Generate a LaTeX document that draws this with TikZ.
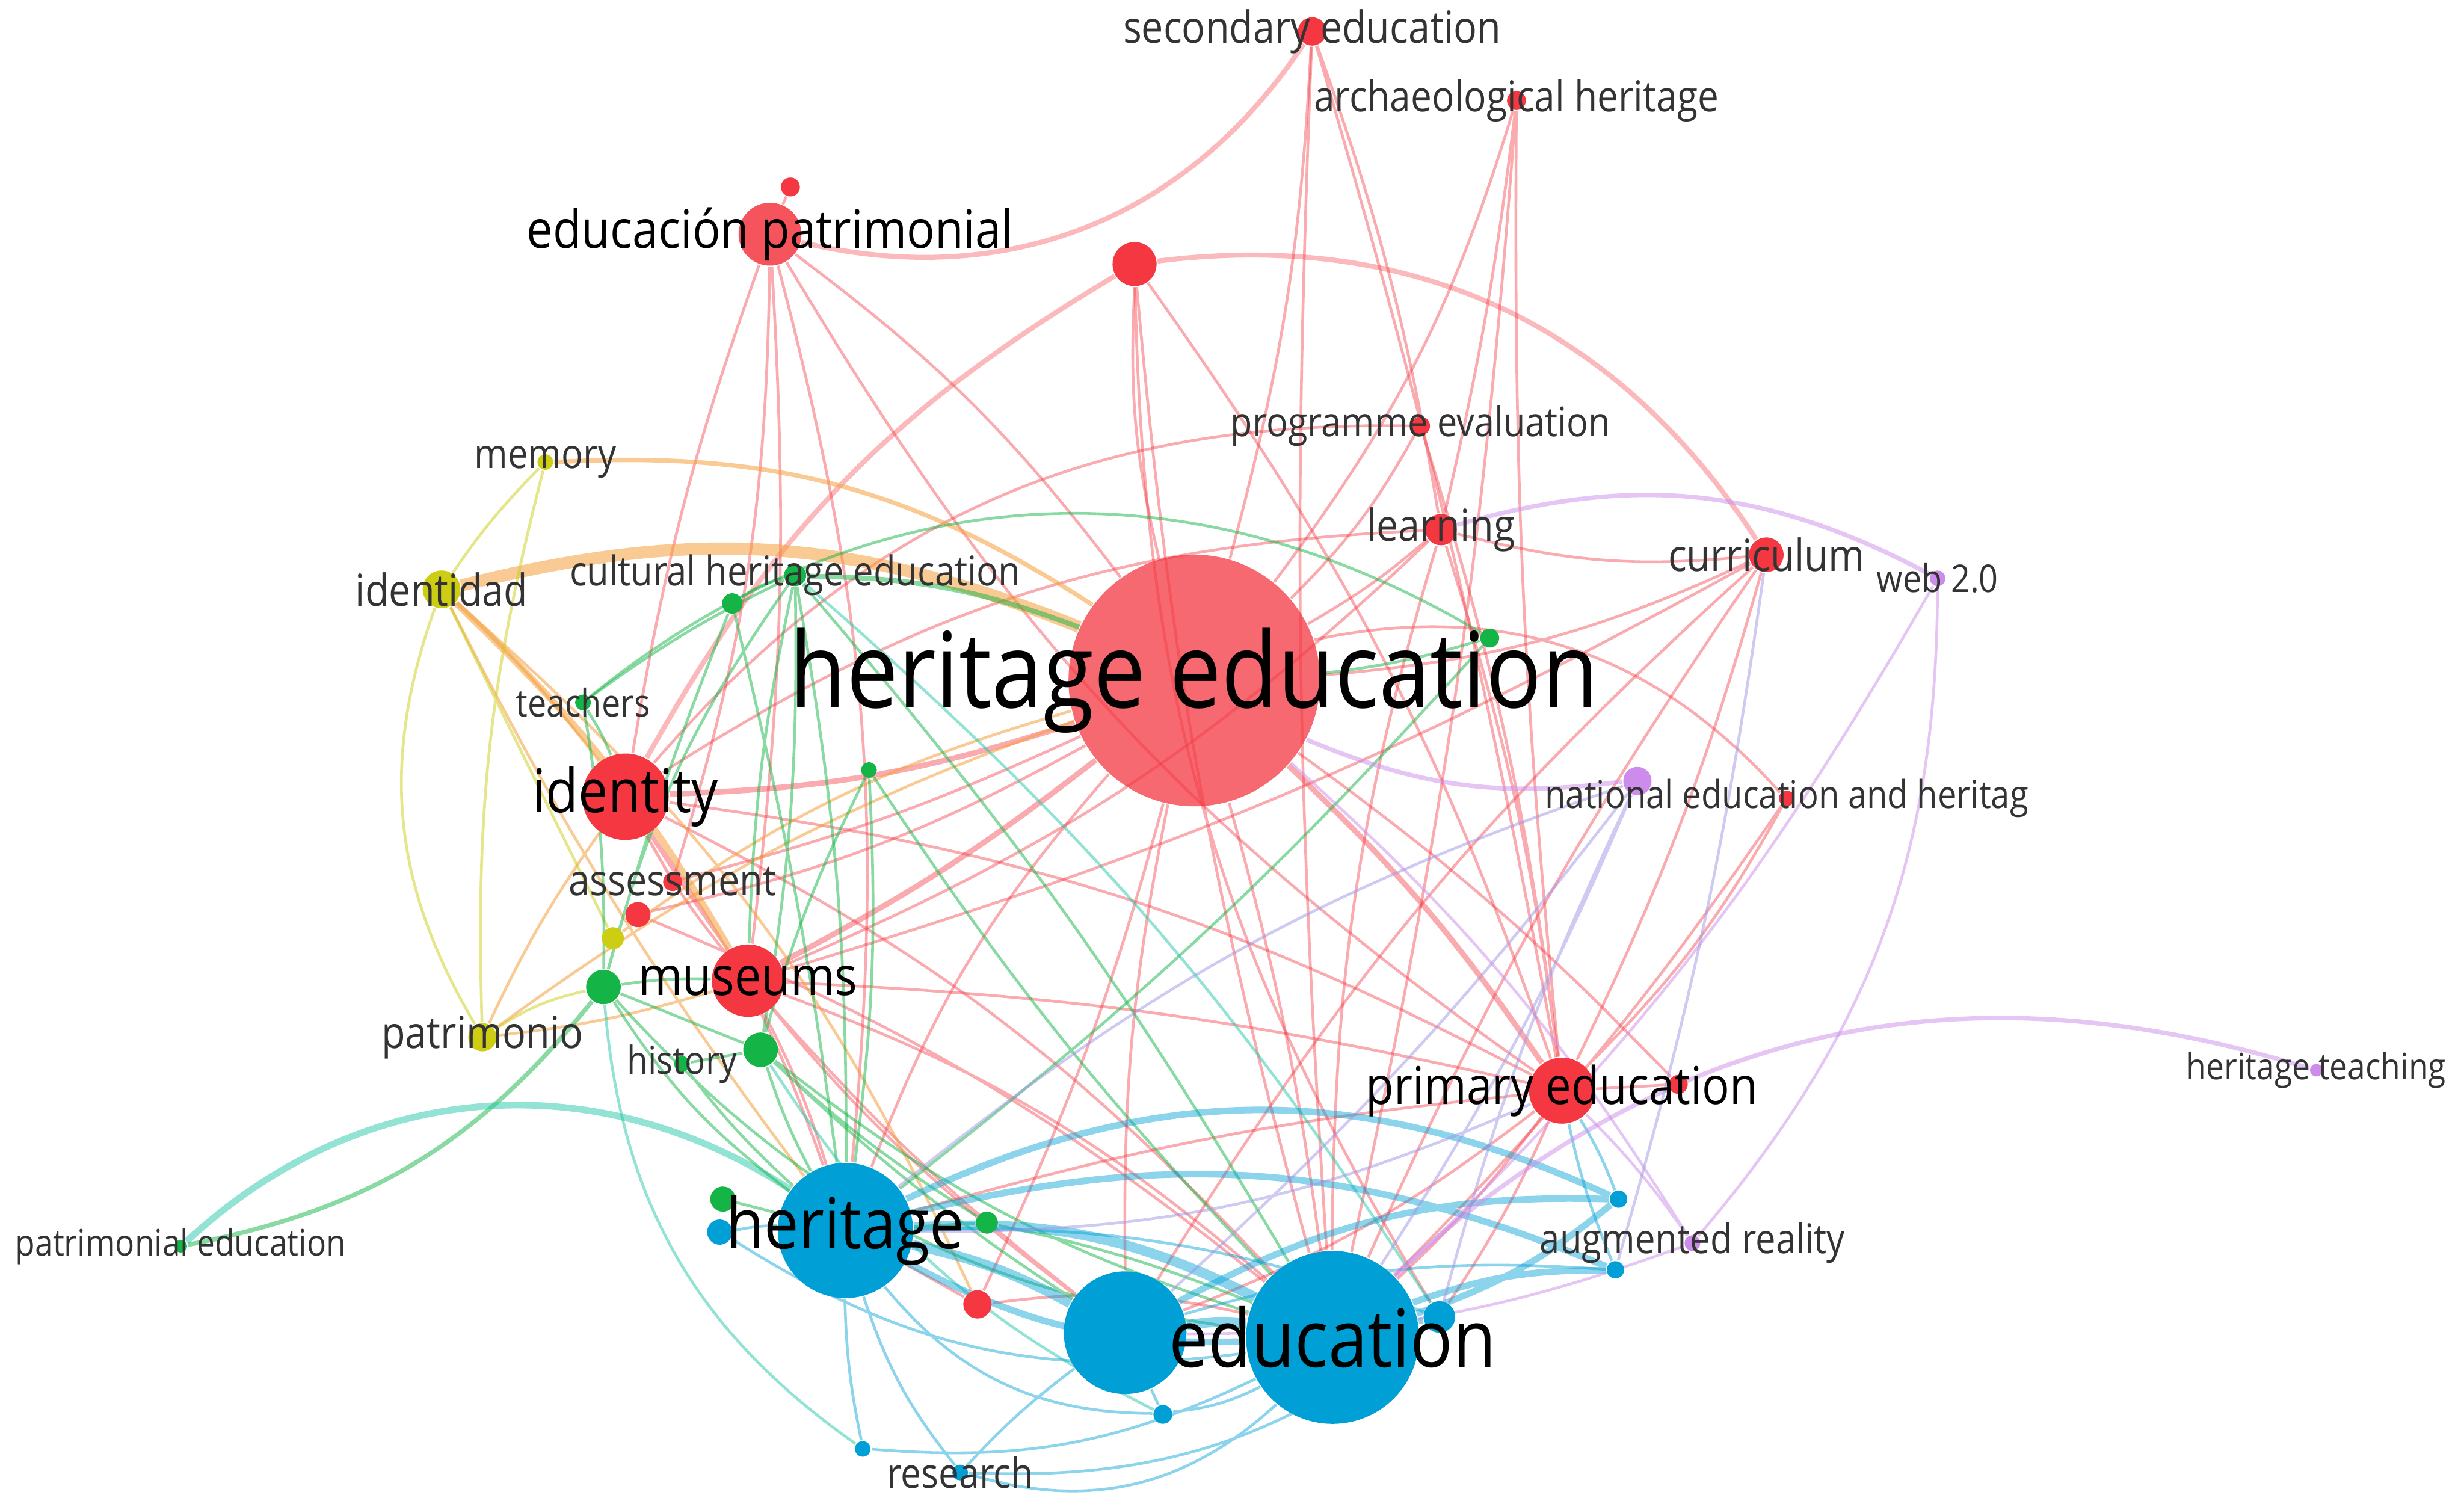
\documentclass[tikz,border=0pt]{standalone}
\usepackage{fontspec}
\setmainfont{Open Sans}[FakeStretch=0.88]
\definecolor{clRed}{RGB}{245,55,65}
\definecolor{clBlue}{RGB}{0,160,215}
\definecolor{clGreen}{RGB}{20,180,70}
\definecolor{clYellow}{RGB}{205,205,20}
\definecolor{clPurple}{RGB}{205,140,235}
\definecolor{clOrange}{RGB}{245,160,60}
\definecolor{clTeal}{RGB}{40,200,170}
\definecolor{clLav}{RGB}{160,150,230}
\pgfdeclarelayer{edges}
\pgfsetlayers{edges,main}
\tikzset{
  kw/.style={circle,inner sep=0pt,minimum size=#1},
  lab/.style={font=\fontsize{#1}{#1}\selectfont,text=black!80,inner sep=0pt},
  redge/.style={draw=clRed,draw opacity=0.42,line width=0.5pt},
  oedge/.style={draw=clOrange,draw opacity=0.55,line width=0.5pt},
  yedge/.style={draw=clYellow,draw opacity=0.5,line width=0.5pt},
  gedge/.style={draw=clGreen,draw opacity=0.5,line width=0.5pt},
  tedge/.style={draw=clTeal,draw opacity=0.5,line width=0.5pt},
  bedge/.style={draw=clBlue,draw opacity=0.45,line width=0.5pt},
  pedge/.style={draw=clPurple,draw opacity=0.5,line width=0.5pt},
  ledge/.style={draw=clLav,draw opacity=0.5,line width=0.5pt}
}
\begin{document}
\begin{tikzpicture}[x=0.01cm,y=-0.01cm]
\useasboundingbox (0,0) rectangle (1568,957);

\node[kw=0.12cm,fill=clRed] (r2) at (503,119) {};
\node[kw=0.18cm,fill=clRed,label={[lab=8]center:secondary education}] (se) at (835,20) {};
\node[kw=0.12cm,fill=clRed,label={[lab=7.7]center:archaeological heritage}] (ah) at (965,64) {};
\node[kw=0.12cm,fill=clRed,label={[lab=7.35]center:programme evaluation}] (pe) at (904,271) {};
\node[kw=0.2cm,fill=clRed,label={[lab=8]center:learning}] (le) at (917,337) {};
\node[kw=0.22cm,fill=clRed,label={[lab=8]center:curriculum}] (cu) at (1124,353) {};
\node[kw=0.18cm,fill=clPurple] (pu1) at (1042,497) {};
\node[kw=0.1cm,fill=clRed,label={[lab=6.95]center:national education and heritag}] (ne) at (1137,508) {};
\node[kw=0.12cm,fill=clRed] (r3) at (1068,690) {};
\node[kw=0.12cm,fill=clRed,label={[lab=7.8]center:assessment}] (as) at (428,561) {};
\node[kw=0.16cm,fill=clRed] (r4) at (406,582) {};
\node[kw=0.18cm,fill=clRed] (r5) at (622,830) {};
\node[kw=0.24cm,fill=clYellow,label={[lab=8]center:identidad}] (idd) at (281,375) {};
\node[kw=0.1cm,fill=clYellow,label={[lab=7.4]center:memory}] (me) at (347,294) {};
\node[kw=0.18cm,fill=clYellow,label={[lab=8]center:patrimonio}] (pa) at (307,660) {};
\node[kw=0.14cm,fill=clYellow] (y1) at (390,597) {};
\node[kw=0.13cm,fill=clGreen] (gc) at (466,384) {};
\node[kw=0.14cm,fill=clGreen,label={[lab=7.4]center:cultural heritage education}] (che) at (506,366) {};
\node[kw=0.1cm,fill=clGreen,label={[lab=6.9]center:teachers}] (te) at (371,447) {};
\node[kw=0.22cm,fill=clGreen] (g1) at (384,628) {};
\node[kw=0.1cm,fill=clGreen,label={[lab=7]center:history}] (hi) at (434,677) {};
\node[kw=0.22cm,fill=clGreen] (g2) at (484,668) {};
\node[kw=0.1cm,fill=clGreen] (g3) at (553,490) {};
\node[kw=0.12cm,fill=clGreen] (g4) at (948,406) {};
\node[kw=0.08cm,fill=clGreen,label={[lab=6.6]center:patrimonial education}] (pe2) at (115,793) {};
\node[kw=0.16cm,fill=clGreen] (g5) at (460,763) {};
\node[kw=0.14cm,fill=clGreen] (g6) at (628,778) {};
\node[kw=0.16cm,fill=clBlue] (b2) at (458,784) {};
\node[kw=0.2cm,fill=clBlue] (b3) at (916,838) {};
\node[kw=0.12cm,fill=clBlue] (b4) at (740,900) {};
\node[kw=0.1cm,fill=clBlue] (b5) at (549,922) {};
\node[kw=0.1cm,fill=clBlue,label={[lab=7.5]center:research}] (re) at (611,937) {};
\node[kw=0.11cm,fill=clBlue] (b6) at (1030,763) {};
\node[kw=0.11cm,fill=clBlue] (b7) at (1028,808) {};
\node[kw=0.1cm,fill=clPurple,label={[lab=7.4]center:augmented reality}] (ar) at (1077,791) {};
\node[kw=0.1cm,fill=clPurple,label={[lab=6.9]center:web 2.0}] (wb) at (1233,368) {};
\node[kw=0.08cm,fill=clPurple,label={[lab=6.6]center:heritage teaching}] (ht) at (1474,681) {};
\node[kw=0.28cm,fill=clRed] (r1) at (722,168) {};
\node[kw=0.4cm,fill=clRed,fill opacity=0.85,label={[lab=9.6,text=black]center:educación patrimonial}] (ep) at (490,149) {};
\node[kw=0.42cm,fill=clRed,label={[lab=9.4,text=black]center:primary education}] (pr) at (994,694) {};
\node[kw=0.46cm,fill=clRed,label={[lab=9.8,text=black]center:museums}] (mu) at (476,624) {};
\node[kw=0.55cm,fill=clRed,label={[lab=10.9,text=black]center:identity}] (id) at (398,507) {};
\node[kw=0.78cm,fill=clBlue] (b1) at (716,848) {};
\node[kw=0.86cm,fill=clBlue,label={[lab=12.7,text=black]center:heritage}] (her) at (538,783) {};
\node[kw=1.1cm,fill=clBlue,label={[lab=14.5,text=black]center:education}] (ed) at (848,851) {};
\node[kw=1.6cm,fill=clRed,fill opacity=0.75,label={[lab=19,text=black]center:heritage education}] (he) at (760,433) {};

\begin{pgfonlayer}{edges}
\fill[white] (0,0) rectangle (1568,957);
\draw[redge] (he) to[bend right=8] (ep) (he) to[bend left=8] (r1) (he) to[bend right=6] (se)
  (he) to[bend right=10] (ah) (he) to[bend right=8] (pe) (he) to[bend right=5] (le)
  (he) to[bend right=10] (cu) (he) to[bend left=5] (as) (he) to[bend left=8] (r4)
  (he) to[bend left=5] (r5) (he) to[bend left=4] (ed) (he) to[bend right=6] (b1)
  (he) to[bend right=10] (her) (he) to[bend left=5] (r3) (he) to[bend left=30] (ne);
\draw[redge,line width=1pt] (he) to[bend left=6] (pr) (he) to[bend left=8] (id) (he) to[bend left=5] (mu);
\draw[redge,line width=0.9pt,draw opacity=0.35] (ep) to[bend right=35] (se)
  (r1) to[bend left=32] (cu) (id) to[bend left=15] (r1);
\draw[redge] (ep) to[bend right=5] (id) (ep) to[bend left=5] (mu) (ep) to (r2)
  (ep) to[bend left=8] (as) (ep) to[bend left=10] (her) (ep) to[bend right=12] (pr);
\draw[redge] (r1) to[bend right=5] (ed) (r1) to[bend left=8] (pr) (r1) to[bend right=15] (b3);
\draw[redge] (se) to[bend left=5] (le) (se) to[bend left=3] (pr) (se) to[bend right=3] (ed)
  (ah) to[bend right=3] (pr) (ah) to[bend left=3] (le) (ah) to[bend left=4] (ed);
\draw[redge] (pe) to[bend right=25] (id) (pe) to[bend left=5] (pr)
  (le) to[bend left=5] (pr) (le) to[bend right=8] (ed) (le) to[bend right=15] (id) (le) to[bend left=10] (mu);
\draw[redge] (cu) to[bend left=5] (pr) (cu) to[bend right=5] (ed) (cu) to[bend left=6] (mu)
  (cu) to[bend left=10] (le) (cu) to[bend right=8] (b1) (ne) to[bend left=8] (pr) (ne) to[bend left=5] (ed);
\draw[redge] (pr) to[bend left=5] (ed) (pr) to[bend left=8] (b1) (pr) to[bend right=5] (her)
  (pr) to[bend right=10] (id) (pr) to[bend right=5] (mu) (pr) to (r3) (pr) to[bend left=5] (b3);
\draw[redge] (id) to[bend right=5] (mu) (id) to[bend left=8] (her) (id) to[bend left=10] (ed)
  (id) to[bend right=10] (b1) (id) to (as) (mu) to[bend left=5] (her) (mu) to[bend left=10] (ed)
  (mu) to[bend right=5] (b1) (r5) to (her) (r5) to[bend left=10] (ed) (r4) to[bend left=8] (ed);

\draw[oedge,line width=2.2pt] (idd) to[bend left=18] (he);
\draw[oedge,line width=0.8pt] (me) to[bend left=18] (he);
\draw[oedge,line width=1.2pt] (idd) to[bend left=8] (mu);
\draw[oedge] (idd) to[bend left=5] (id) (idd) to[bend right=5] (her) (pa) to[bend left=8] (he)
  (pa) to[bend right=5] (mu) (pa) to[bend left=5] (id) (y1) to[bend left=10] (he) (idd) to[bend left=12] (r5);
\draw[yedge] (idd) to[bend right=25] (pa) (idd) to[bend left=5] (me) (me) to[bend right=8] (pa)
  (pa) to[bend left=10] (g1) (idd) to (y1);

\draw[gedge,line width=0.8pt] (pe2) to[bend right=20] (g1);
\draw[tedge,line width=1.2pt] (pe2) to[bend left=38] (her);
\draw[gedge,line width=0.9pt] (che) to[bend left=10] (he);
\draw[gedge] (che) to[bend left=5] (her) (che) to[bend right=5] (mu) (che) to[bend left=5] (ed)
  (che) to[bend right=10] (g1) (che) to[bend left=5] (g2) (che) to[bend right=5] (te)
  (gc) to[bend right=3] (g1) (gc) to[bend left=3] (her) (gc) to[bend left=10] (che);
\draw[gedge] (g3) to[bend right=5] (ed) (g3) to[bend right=5] (g2) (g3) to[bend left=5] (her)
  (g4) to[bend left=5] (he) (g4) to[bend left=5] (her) (te) to[bend left=35] (g4)
  (te) to[bend left=5] (g1) (te) to[bend left=5] (id);
\draw[gedge] (g1) to (g2) (g1) to[bend right=10] (her) (g1) to[bend right=20] (ed) (g1) to[bend left=5] (mu)
  (g2) to[bend right=5] (her) (g2) to[bend right=10] (ed) (g2) to[bend right=5] (b1)
  (g5) to (her) (g6) to (her) (g6) to[bend left=5] (ed) (g6) to[bend left=5] (g2)
  (hi) to (g2) (hi) to[bend right=5] (her);
\draw[tedge] (g1) to[bend right=25] (b5) (che) to[bend left=8] (b3) (g2) to[bend right=15] (b4);

\draw[bedge,line width=1.8pt] (her) to[bend left=15] (ed) (her) to[bend left=8] (b1) (ed) to[bend right=8] (b1);
\draw[bedge,line width=1.2pt] (her) to[bend right=15] (ed) (her) to[bend left=25] (b6) (her) to[bend left=18] (b7)
  (ed) to (b3) (ed) to[bend right=10] (b6) (ed) to[bend left=10] (b7) (b1) to[bend left=15] (b6);
\draw[bedge] (her) to[bend left=10] (b3) (her) to[bend right=10] (re) (her) to[bend right=5] (b5)
  (her) to[bend right=25] (b4) (ed) to[bend left=10] (b4) (ed) to[bend left=30] (re)
  (b1) to[bend left=10] (b7) (b1) to[bend right=5] (re) (b1) to (b4)
  (b2) to[bend right=20] (ed) (b2) to[bend left=5] (her) (b5) to[bend right=15] (ed)
  (re) to[bend right=20] (b3) (b6) to[bend right=5] (pr) (b7) to[bend left=5] (pr);

\draw[pedge,line width=0.8pt] (pu1) to[bend left=15] (he) (ht) to[bend right=30] (ed) (le) to[bend left=22] (wb);
\draw[pedge] (wb) to[bend left=20] (ar) (wb) to[bend left=8] (ed) (ar) to[bend right=8] (he)
  (ar) to[bend left=10] (b1) (ar) to[bend right=5] (pr);
\draw[ledge] (pu1) to[bend left=5] (ed) (pu1) to[bend right=10] (her) (pu1) to[bend left=5] (b1)
  (pu1) to[bend right=5] (b3) (pr) to[bend left=12] (her) (cu) to[bend left=4] (b7);
\end{pgfonlayer}
\end{tikzpicture}
\end{document}
